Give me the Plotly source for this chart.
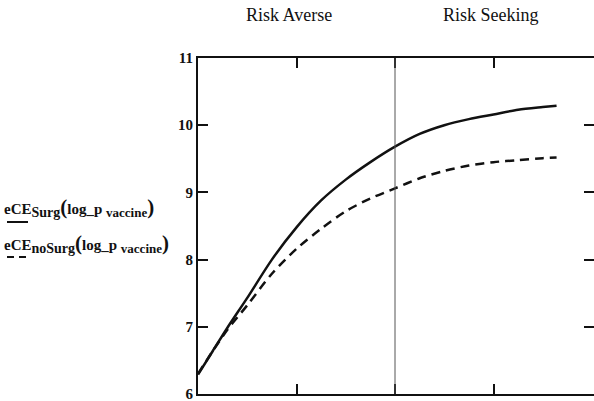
import plotly.graph_objects as go

# ---- data ----
x_vals = [0, 0.15, 0.30, 0.50, 0.75, 1.0, 1.25, 1.5, 1.75, 2.0, 2.25, 2.5, 2.75, 3.0, 3.25, 3.5, 3.64]
ece_surg = [6.29, 6.64, 6.99, 7.43, 8.00, 8.48, 8.88, 9.19, 9.45, 9.68, 9.87, 10.00, 10.09, 10.16, 10.23, 10.27, 10.29]
ece_nosurg = [6.30, 6.64, 6.96, 7.32, 7.79, 8.16, 8.46, 8.72, 8.91, 9.06, 9.21, 9.32, 9.40, 9.45, 9.48, 9.51, 9.52]
y_ticks = [6, 7, 8, 9, 10, 11]
x_ticks = [1, 2, 3]
divider_x = 2
region_labels = ["Risk Averse", "Risk Seeking"]
region_label_x = [0.92, 2.97]

# ---- layout geometry (pixels) ----
W_IMG, H_IMG = 594, 401
L, R, T, B = 198, 594, 58, 394
PW, PH = R - L, B - T


def px_x(p):
    return (p - L) / PW


def px_y(p):
    return (B - p) / PH


SERIF = "Liberation Serif, Times New Roman, serif"
INK = "#111111"

fig = go.Figure()
fig.add_trace(go.Scatter(x=x_vals, y=ece_surg, mode="lines",
                         line=dict(color=INK, width=2.5, shape="spline", smoothing=0.8),
                         showlegend=False))
fig.add_trace(go.Scatter(x=x_vals, y=ece_nosurg, mode="lines",
                         line=dict(color=INK, width=2.5, dash="9px,6px", shape="spline", smoothing=0.8),
                         showlegend=False))

shapes = [
    dict(type="line", xref="x", yref="paper", x0=divider_x, x1=divider_x, y0=0, y1=1,
         line=dict(color="#555555", width=1)),
    # legend samples
    dict(type="line", xref="paper", yref="paper", x0=px_x(7), x1=px_x(28), y0=px_y(222), y1=px_y(222),
         line=dict(color=INK, width=2)),
    dict(type="line", xref="paper", yref="paper", x0=px_x(7), x1=px_x(26), y0=px_y(257), y1=px_y(257),
         line=dict(color=INK, width=2, dash="7px,5px")),
]

annotations = []
for lbl, xv in zip(region_labels, region_label_x):
    annotations.append(dict(text=lbl, xref="x", yref="paper", x=xv, y=px_y(15),
                            showarrow=False, xanchor="center", yanchor="middle",
                            font=dict(family=SERIF, size=18, color=INK)))

big = '<span style="font-size:21px">'
leg1 = ('<b>eCE<sub><span style="font-size:14px">Surg</span></sub>' + big + '(</span>'
        'log_p <sub><span style="font-size:13px">vaccine</span></sub>' + big + ')</span></b>')
leg2 = ('<b>eCE<sub><span style="font-size:14px">noSurg</span></sub>' + big + '(</span>'
        'log_p <sub><span style="font-size:13px">vaccine</span></sub>' + big + ')</span></b>')
annotations.append(dict(text=leg1, xref="paper", yref="paper", x=px_x(2), y=px_y(207),
                        showarrow=False, xanchor="left", yanchor="middle",
                        font=dict(family=SERIF, size=15, color=INK)))
annotations.append(dict(text=leg2, xref="paper", yref="paper", x=px_x(2), y=px_y(243),
                        showarrow=False, xanchor="left", yanchor="middle",
                        font=dict(family=SERIF, size=15, color=INK)))

fig.update_layout(
    width=W_IMG, height=H_IMG,
    margin=dict(l=L, r=W_IMG - R, t=T, b=H_IMG - B, autoexpand=False),
    paper_bgcolor="white", plot_bgcolor="white",
    shapes=shapes, annotations=annotations,
    xaxis=dict(range=[0, 4.02], showgrid=False, zeroline=False, showline=True, linecolor=INK,
               linewidth=2, mirror="allticks", ticks="inside", ticklen=10, tickwidth=1.5,
               tickcolor=INK, tickvals=x_ticks, showticklabels=False),
    yaxis=dict(range=[6, 11], showgrid=False, zeroline=False, showline=True, linecolor=INK,
               linewidth=2, mirror="allticks", ticks="inside", ticklen=10, tickwidth=1.5,
               tickcolor=INK, tickvals=y_ticks, ticktext=[f"<b>{v}</b>" for v in y_ticks],
               ticklabeloverflow="allow",
               tickfont=dict(family=SERIF, size=15, color=INK)),
)

fig.write_html("out.html", config={"displayModeBar": False},
               post_script="document.body.style.margin='0';document.body.style.overflow='hidden';")
